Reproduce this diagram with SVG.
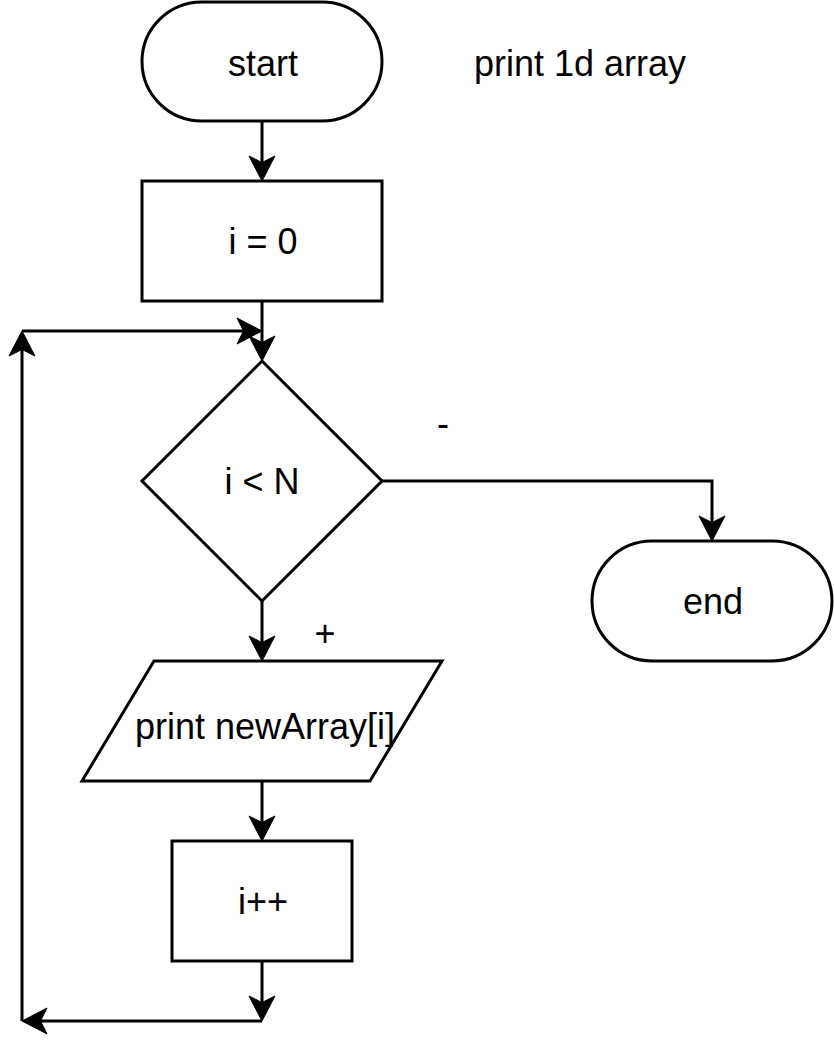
<svg xmlns="http://www.w3.org/2000/svg" width="834" height="1047" viewBox="0 0 834 1047">
  <style>
    .shape { fill: #ffffff; stroke: #000000; stroke-width: 3; }
    .label { font-family: "Liberation Sans", Arial, Helvetica, sans-serif; font-size: 36px; fill: #000000; text-anchor: middle; }
    .edge { fill: none; stroke: #000000; stroke-width: 3; marker-end: url(#arrow); }
  </style>
  <defs>
    <!-- classic notched arrowhead; tip sits 12px beyond the path end -->
    <marker id="arrow" markerUnits="userSpaceOnUse" viewBox="-16 -15 30 30" refX="0" refY="0" markerWidth="30" markerHeight="30" orient="auto">
      <path d="M12,0 L-13,-13 L-6.5,0 L-13,13 Z" fill="#000000" stroke="#000000" stroke-width="1" stroke-linejoin="miter"/>
    </marker>
  </defs>

  <rect width="834" height="1047" fill="#ffffff"/>

  <!-- connectors -->
  <g id="connectors">
    <path class="edge" d="M262,121 L262,169"/>
    <path class="edge" d="M262,301 L262,349"/>
    <path class="edge" d="M382,481 L712,481 L712,529"/>
    <path class="edge" d="M262,601 L262,649"/>
    <path class="edge" d="M262,781 L262,829"/>
    <path class="edge" d="M262,961 L262,1009"/>
    <path class="edge" d="M262,1021 L34,1021"/>
    <path class="edge" d="M22,1021 L22,343"/>
    <path class="edge" d="M22,331 L250,331"/>
    <text class="label" x="443" y="436">-</text>
    <text class="label" x="325" y="646">+</text>
  </g>

  <!-- title -->
  <g id="title">
    <text class="label" x="580" y="76">print 1d array</text>
  </g>

  <!-- nodes -->
  <g id="start">
    <rect class="shape" x="142" y="2" width="240" height="119" rx="60" ry="59.5"/>
    <text class="label" x="263" y="76">start</text>
  </g>

  <g id="init">
    <rect class="shape" x="142" y="181" width="240" height="120"/>
    <text class="label" x="263" y="254">i = 0</text>
  </g>

  <g id="condition">
    <polygon class="shape" points="262,361 382,481 262,601 142,481"/>
    <text class="label" x="262" y="494">i &lt; N</text>
  </g>

  <g id="end">
    <rect class="shape" x="592" y="541" width="240" height="120" rx="60" ry="60"/>
    <text class="label" x="713" y="614">end</text>
  </g>

  <g id="output">
    <polygon class="shape" points="154,661 442,661 370,781 82,781"/>
    <text class="label" x="265" y="739">print newArray[i]</text>
  </g>

  <g id="increment">
    <rect class="shape" x="172" y="841" width="180" height="120"/>
    <text class="label" x="263" y="914">i++</text>
  </g>
</svg>
